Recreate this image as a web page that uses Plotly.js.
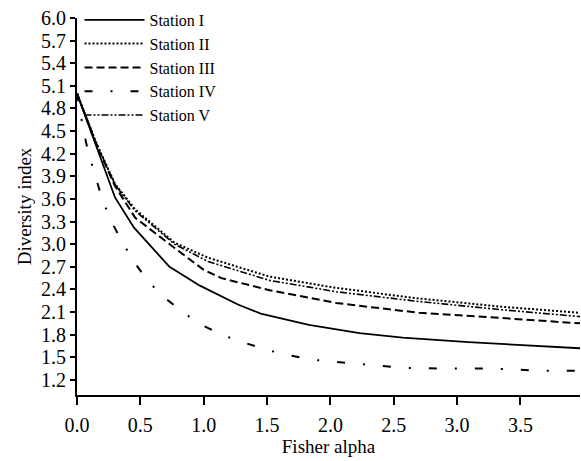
<!DOCTYPE html>
<html>
<head>
<meta charset="utf-8">
<script src="https://cdn.plot.ly/plotly-3.0.1.min.js"></script>
<style>html,body{margin:0;padding:0;background:#fff;}#chart{width:581px;height:461px;}</style>
</head>
<body>
<div id="chart"></div>
<script>
// Station I (solid)
const xI = [0, 0.15, 0.30, 0.45, 0.73, 0.97, 1.27, 1.45, 1.83, 2.23, 2.57, 3.09, 3.97];
const yI = [5.0, 4.30, 3.62, 3.22, 2.70, 2.45, 2.20, 2.08, 1.93, 1.82, 1.76, 1.70, 1.62];
// Station II (dotted)
const xII = [0, 0.15, 0.30, 0.46, 0.77, 1.035, 1.52, 2.045, 2.70, 3.356, 3.97];
const yII = [5.0, 4.35, 3.80, 3.46, 3.02, 2.82, 2.57, 2.42, 2.28, 2.17, 2.09];
// Station III (dashed)
const xIII = [0, 0.15, 0.30, 0.46, 0.77, 1.0, 1.14, 1.52, 2.045, 2.70, 3.356, 3.97];
const yIII = [5.0, 4.33, 3.77, 3.35, 2.95, 2.66, 2.55, 2.39, 2.22, 2.09, 2.02, 1.95];
// Station IV (dash-dot)
const xIV = [0, 0.052, 0.09, 0.144, 0.197, 0.262, 0.354, 0.445, 0.55, 0.677, 0.826, 0.97, 1.14, 1.31, 1.495, 1.665, 1.85, 2.03, 2.216, 2.39, 2.57, 2.94, 3.30, 3.67, 3.97];
const yIV = [5.0, 4.50, 4.21, 3.91, 3.61, 3.33, 3.04, 2.78, 2.53, 2.31, 2.11, 1.94, 1.80, 1.70, 1.60, 1.53, 1.47, 1.44, 1.41, 1.38, 1.36, 1.35, 1.35, 1.32, 1.32];
// Station V (dash-dot-dot)
const xV = [0, 0.15, 0.30, 0.46, 0.77, 1.035, 1.52, 2.045, 2.70, 3.356, 3.97];
const yV = [5.0, 4.35, 3.79, 3.44, 3.00, 2.77, 2.52, 2.37, 2.24, 2.13, 2.04];

const names = ['Station I', 'Station II', 'Station III', 'Station IV', 'Station V'];
const yTicks = [1.2, 1.5, 1.8, 2.1, 2.4, 2.7, 3.0, 3.3, 3.6, 3.9, 4.2, 4.5, 4.8, 5.1, 5.4, 5.7, 6.0];
const xTicks = [0.0, 0.5, 1.0, 1.5, 2.0, 2.5, 3.0, 3.5];

const serif = 'Liberation Serif';
const data = [
  {x: xI, y: yI, name: names[0], mode: 'lines', line: {color: '#000', width: 1.8}},
  {x: xII, y: yII, name: names[1], mode: 'lines', line: {color: '#000', width: 2, dash: '2px,2px'}},
  {x: xIII, y: yIII, name: names[2], mode: 'lines', line: {color: '#000', width: 2, dash: '8px,4px'}},
  {x: xIV, y: yIV, name: names[3], mode: 'lines', line: {color: '#000', width: 2, dash: '8px,18px,2px,18px'}},
  {x: xV, y: yV, name: names[4], mode: 'lines', line: {color: '#000', width: 1.6, dash: '7px,2px,2px,2px,2px,2px'}}
];

const layout = {
  width: 581, height: 461,
  margin: {l: 77, r: 1, t: 18, b: 66},
  paper_bgcolor: '#fff', plot_bgcolor: '#fff',
  font: {family: serif, color: '#000', size: 20},
  showlegend: true,
  legend: {x: 0.005, y: 1.04, xanchor: 'left', yanchor: 'top', bgcolor: 'rgba(0,0,0,0)',
           font: {family: serif, size: 16, color: '#000'}, itemwidth: 60, tracegroupgap: 0},
  xaxis: {
    range: [0, 3.97], tickmode: 'array', tickvals: xTicks,
    ticktext: xTicks.map(v => v.toFixed(1)),
    showgrid: false, zeroline: false, showline: true, linecolor: '#000', linewidth: 2,
    ticks: 'outside', ticklen: 8, tickwidth: 2, tickcolor: '#000', ticklabelstandoff: 3,
    tickfont: {family: serif, size: 20, color: '#000'},
    title: {text: 'Fisher alpha', font: {family: serif, size: 19, color: '#000'}, standoff: 4}
  },
  yaxis: {
    range: [1.0, 6.0], tickmode: 'array', tickvals: yTicks,
    ticktext: yTicks.map(v => v.toFixed(1)),
    showgrid: false, zeroline: false, showline: true, linecolor: '#000', linewidth: 2,
    ticks: 'outside', ticklen: 5, tickwidth: 2, tickcolor: '#000',
    tickfont: {family: serif, size: 20, color: '#000'},
    title: {text: 'Diversity index', font: {family: serif, size: 19, color: '#000'}, standoff: 4}
  }
};

Plotly.newPlot('chart', data, layout, {displayModeBar: false, staticPlot: true});
</script>
</body>
</html>
